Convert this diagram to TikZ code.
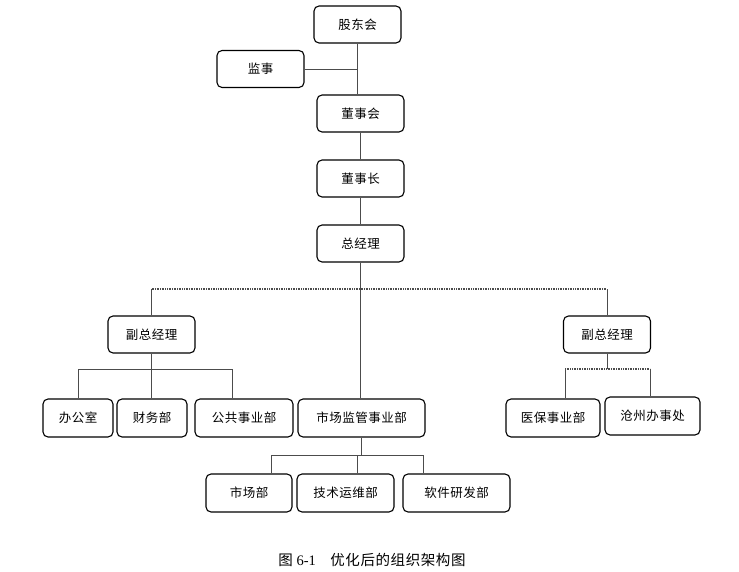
\documentclass[tikz,border=0pt]{standalone}
\usepackage{fontspec}
\setmainfont{Liberation Serif}
\newfontfamily\cjk[LetterSpace=4]{Noto Sans CJK SC}
\usetikzlibrary{positioning}
\tikzset{basic/.style={draw,fill=none,rounded corners=5pt,line width=1.1pt,
                       text badly centered,font=\cjk\fontsize{12.5}{14}\selectfont}}
\tikzset{unit/.style={basic,rectangle,minimum width=87pt,minimum height=37pt}}
\tikzset{dept/.style={basic,rectangle,minimum height=38pt}}
\tikzset{link/.style={draw=black!70,line width=0.7pt}}
\tikzset{dotlink/.style={link,densely dotted,line width=1.1pt}}

\begin{document}
\begin{tikzpicture}[x=1pt,y=-1pt]
    \useasboundingbox (0,0) rectangle (739,572);
    % Top of the chain
    \node[unit] (gdh) at (357.5,24.5) {股东会};
    \node[unit] (js) at (260.5,69) {监事};
    \node[unit] (dsh) at (360.5,113.5) {董事会};
    \node[unit] (dsz) at (360.5,178.5) {董事长};
    \node[unit] (zjl) at (360.5,243.5) {总经理};
    \draw[link] (gdh.south) -- (gdh.south |- dsh.north);
    \draw[link] (js.east) -- (js.east -| gdh.south);
    \draw[link] (dsh) -- (dsz);
    \draw[link] (dsz) -- (zjl);
    % Deputy managers
    \coordinate (bus) at (0,289);
    \node[unit] (fzl1) at (151.5,334.5) {副总经理};
    \node[unit] (fzl2) at (607,334.5) {副总经理};
    \draw[dotlink] (fzl1.north |- bus) -- (fzl2.north |- bus);
    \draw[link] (fzl1.north) -- (fzl1.north |- bus);
    \draw[link] (fzl2.north) -- (fzl2.north |- bus);
    % Departments
    \node[dept, minimum width=70pt] (bgs) at (78,418) {办公室};
    \node[dept, minimum width=70pt] (cwb) at (152,418) {财务部};
    \node[dept, minimum width=98pt] (ggsy) at (244,418) {公共事业部};
    \node[dept, minimum width=127pt] (scjg) at (361.5,418) {市场监管事业部};
    \node[dept, minimum width=94pt] (yb) at (553,418) {医保事业部};
    \node[dept, minimum width=95pt] (cz) at (652.5,416) {沧州办事处};
    \draw[link] (zjl.south) -- (zjl.south |- scjg.north);
    % Left branch
    \coordinate (lbus) at (0,369);
    \draw[link] (fzl1.south) -- (fzl1.south |- cwb.north);
    \draw[link] (bgs.north) -- (bgs.north |- lbus)
        -- ([xshift=-12pt]ggsy.north |- lbus) -- ([xshift=-12pt]ggsy.north);
    % Right branch
    \draw[link] (fzl2.south) -- (fzl2.south |- lbus);
    \draw[dotlink] ([xshift=12pt]yb.north |- lbus) -- ([xshift=-2.5pt]cz.north |- lbus);
    \draw[link] ([xshift=12pt]yb.north |- lbus) -- ([xshift=12pt]yb.north);
    \draw[link] ([xshift=-2.5pt]cz.north |- lbus) -- ([xshift=-2.5pt]cz.north);
    % Sub departments of scjg
    \coordinate (bbus) at (0,455);
    \foreach \name/\txt/\cx/\w/\dx in {scb/市场部/249/86/22,
                                      jsyw/技术运维部/345.5/97/11.5,
                                      rjyf/软件研发部/456.5/107/-33.5}{%
        \node[dept, minimum width=\w pt] (\name) at (\cx,493) {\txt};
        \draw[link] ([xshift=\dx pt]\name.north) -- ([xshift=\dx pt]\name.north |- bbus);
      }
    \draw[link] (scjg.south) -- (scjg.south |- bbus);
    \draw[link] ([xshift=22pt]scb.north |- bbus) -- ([xshift=-33.5pt]rjyf.north |- bbus);
    % Caption
    \node[font=\fontsize{14.5}{16}\selectfont] (caption) at (372,560)
        {{\cjk 图} 6-1\quad{\cjk 优化后的组织架构图}};
\end{tikzpicture}
\end{document}
